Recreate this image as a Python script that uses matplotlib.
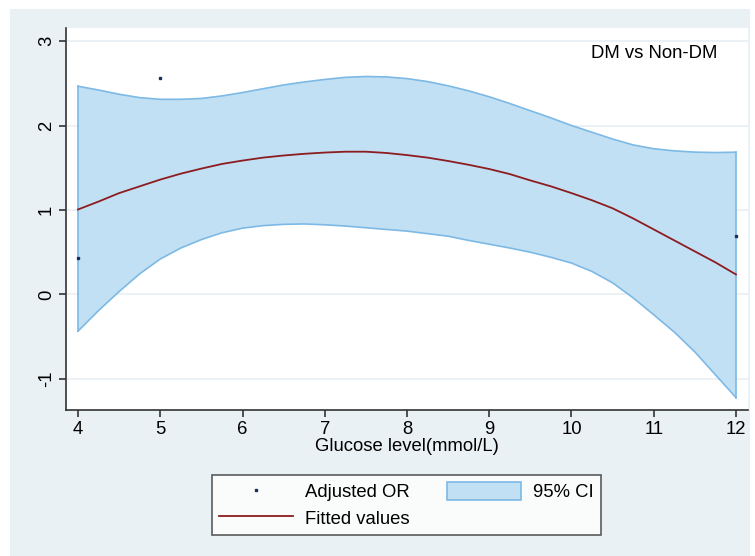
import numpy as np
import matplotlib
matplotlib.use('Agg')
import matplotlib.pyplot as plt
from matplotlib.patches import Rectangle, Patch
from matplotlib.lines import Line2D

plt.rcParams['font.family'] = ['Liberation Sans', 'DejaVu Sans']
plt.rcParams['axes.unicode_minus'] = False

# glucose grid and values
glucose = [4, 4.25, 4.5, 4.75, 5, 5.25, 5.5, 5.75, 6, 6.25, 6.5, 6.75, 7, 7.25, 7.5, 7.75,
           8, 8.25, 8.5, 8.75, 9, 9.25, 9.5, 9.75, 10, 10.25, 10.5, 10.75, 11, 11.25, 11.5, 11.75, 12]
ci_upper = [2.465, 2.42, 2.37, 2.33, 2.31, 2.31, 2.32, 2.35, 2.39, 2.435, 2.48, 2.515, 2.545, 2.57, 2.58, 2.575,
            2.555, 2.52, 2.47, 2.41, 2.34, 2.26, 2.175, 2.09, 2.0, 1.92, 1.84, 1.77, 1.725, 1.70, 1.685, 1.68, 1.684]
ci_lower = [-0.434, -0.19, 0.035, 0.245, 0.42, 0.55, 0.65, 0.73, 0.785, 0.815, 0.83, 0.835, 0.825, 0.81, 0.79, 0.77,
            0.75, 0.72, 0.69, 0.64, 0.595, 0.55, 0.50, 0.44, 0.372, 0.272, 0.138, -0.04, -0.24, -0.445, -0.68, -0.95, -1.22]
fitted = [1.006, 1.10, 1.20, 1.28, 1.36, 1.43, 1.49, 1.545, 1.585, 1.62, 1.645, 1.665, 1.68, 1.69, 1.69, 1.675,
          1.65, 1.62, 1.58, 1.535, 1.485, 1.425, 1.35, 1.28, 1.20, 1.115, 1.02, 0.90, 0.77, 0.64, 0.51, 0.38, 0.237]

# adjusted OR points
or_x = [4, 5, 12]
or_y = [0.43, 2.56, 0.69]

bg = '#eaf1f4'
fill_col = '#c2e0f4'
edge_col = '#7db9e5'
line_col = '#8c1c1f'
dot_col = '#1b2f5c'
fs = 13.3

fig = plt.figure(figsize=(7.55, 5.56), dpi=100)
fig.patch.set_facecolor('white')
fig.patches.append(Rectangle((10 / 755, 0), 740 / 755, 547 / 556, transform=fig.transFigure,
                             facecolor=bg, edgecolor='none', zorder=-10))

ax = fig.add_axes([66 / 755, 1 - 410 / 556, (748 - 66) / 755, (410 - 28) / 556])
ax.set_facecolor('white')

ax.fill_between(glucose, ci_lower, ci_upper, facecolor=fill_col, edgecolor='none', zorder=2)
ax.plot(glucose, ci_upper, color=edge_col, lw=1.2, zorder=3)
ax.plot(glucose, ci_lower, color=edge_col, lw=1.2, zorder=3)
ax.plot([glucose[0], glucose[0]], [ci_lower[0], ci_upper[0]], color=edge_col, lw=1.2, zorder=3)
ax.plot([glucose[-1], glucose[-1]], [ci_lower[-1], ci_upper[-1]], color=edge_col, lw=1.2, zorder=3)
ax.plot(glucose, fitted, color=line_col, lw=1.3, zorder=4)
ax.plot(or_x, or_y, ls='none', marker='s', ms=2, color=dot_col, zorder=5)

ax.set_xlim(3.854, 12.146)
ax.set_ylim(-1.367, 3.154)
ax.set_xticks(range(4, 13))
ax.set_yticks([-1, 0, 1, 2, 3])
ax.grid(axis='y', color='#e8eff3', lw=1.2, zorder=0)
ax.set_axisbelow(True)

for s in ['top', 'right']:
    ax.spines[s].set_visible(False)
for s in ['left', 'bottom']:
    ax.spines[s].set_color('#333333')
    ax.spines[s].set_linewidth(1.2)

ax.tick_params(axis='both', length=5, width=1.2, color='#333333', labelsize=fs, pad=3)
for lbl in ax.get_yticklabels():
    lbl.set_rotation(90)
    lbl.set_va('center')

ax.set_xlabel('Glucose level(mmol/L)', fontsize=fs, labelpad=0)
ax.text(0.955, 0.955, 'DM vs Non-DM', transform=ax.transAxes, ha='right', va='top', fontsize=fs)

handles = [Line2D([], [], ls='none', marker='s', ms=2, color=dot_col),
           Line2D([], [], color=line_col, lw=1.3),
           Patch(facecolor=fill_col, edgecolor=edge_col, lw=1.2)]
labels = ['Adjusted OR', 'Fitted values', '95% CI']
leg = fig.legend(handles, labels, ncol=2, loc='lower left',
                 bbox_to_anchor=(212 / 755, 1 - 535 / 556, 389 / 755, 62 / 556),
                 mode='expand', borderaxespad=0, fontsize=fs, frameon=True, fancybox=False,
                 handlelength=4, handleheight=1.1, handletextpad=0.65, columnspacing=1.8,
                 labelspacing=0.4, borderpad=0.4)
leg.get_frame().set_edgecolor('#333333')
leg.get_frame().set_linewidth(1.2)

fig.savefig('out.png', dpi=100)
